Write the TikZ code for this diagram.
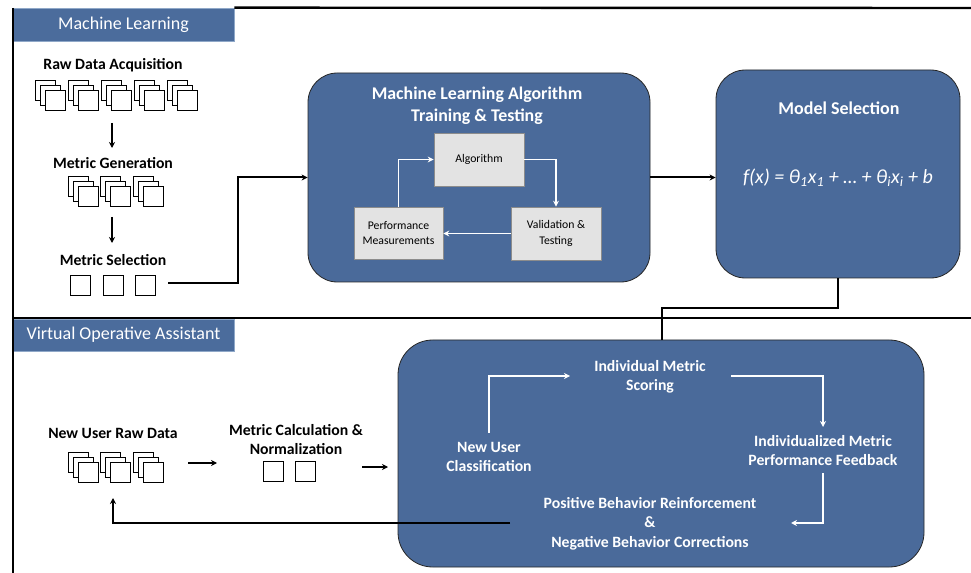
\documentclass[tikz,border=0pt]{standalone}
\usepackage{fontspec}
\setmainfont{Carlito}
\usetikzlibrary{arrows.meta}
\definecolor{boxblue}{HTML}{4A6A9A}
\definecolor{hdrblue}{HTML}{4B6C9C}
\definecolor{hdredge}{HTML}{8FA8C8}
\definecolor{cellgray}{HTML}{E3E3E3}
\definecolor{celledge}{HTML}{8C8C8C}
\tikzset{
  filestack/.pic={\foreach \d in {0,5,10} \draw[fill=white, line width=0.5pt] (\d,\d) rectangle ++(20,20);},
}
\begin{document}
\begin{tikzpicture}[x=0.75pt,y=-0.75pt,
  lbl/.style={font=\bfseries\fontsize{11.8}{14.6}\selectfont, align=center, inner sep=0pt},
  wlbl/.style={lbl, text=white},
  bluebox/.style={draw=black!85, line width=0.6pt, fill=boxblue, rounded corners=22pt},
  hdr/.style={draw=hdredge, line width=0.5pt, fill=hdrblue, text=white, font=\fontsize{13.5}{15}\selectfont, minimum width=165.75pt, inner sep=0pt},
  cell/.style={draw=celledge, fill=cellgray, line width=0.5pt, font=\fontsize{8.8}{11.5}\selectfont, align=center, inner sep=0pt},
  sq/.style={draw=black, fill=white, line width=0.5pt, minimum size=15pt, inner sep=0pt},
  frame/.style={line width=1.8pt},
  conn/.style={line width=1.5pt},
  barr/.style={line width=1.5pt, -{Stealth[length=4.5pt,width=4.5pt]}},
  warr/.style={draw=white, line width=1.2pt, -{Stealth[length=4.5pt,width=4.5pt]}},
]
\useasboundingbox (0,0) rectangle (971,573);

% frame and section headers
\node[hdr, minimum height=24.75pt] (mlhdr) at (123.5,24.5) {Machine Learning};
\node[hdr, minimum height=24pt] (voahdr) at (123.5,335) {Virtual Operative Assistant};
\coordinate (tr) at (971,8);
\coordinate (tl) at (13,8);
\coordinate (bl) at (13,573);
\coordinate (dl) at (13,318);
\coordinate (dr) at (971,318);
\draw[frame] (mlhdr.north east) -- (tr);
\draw[frame] (tl) -- (bl);
\draw[frame] (dl) -- (dr);

% machine learning: left column
\node[lbl] (raw) at (113,65) {Raw Data Acquisition};
\foreach \x in {35,68,101,134,167} \pic at (\x,80) {filestack};
\node[lbl] (gen) at (113,163) {Metric Generation};
\foreach \x in {68,100,133} \pic at (\x,176) {filestack};
\node[lbl] (sel) at (113,260) {Metric Selection};
\node[sq] (s1) at (80,285) {};
\node[sq] (s2) at (113,285) {};
\node[sq] (s3) at (145,285) {};
\coordinate (a1s) at (112,123);
\coordinate (a1e) at (112,148);
\coordinate (a2s) at (112,217);
\coordinate (a2e) at (112,243);
\draw[barr] (a1s) -- (a1e);
\draw[barr] (a2s) -- (a2e);

% ML algorithm box
\node[bluebox, minimum width=256.5pt, minimum height=156.75pt] (mlbox) at (479,177.5) {};
\node[wlbl, font=\bfseries\fontsize{13.4}{16.5}\selectfont] (mltitle) at (477,106) {Machine Learning Algorithm\\Training \& Testing};
\node[cell, minimum width=67.5pt, minimum height=39.75pt] (alg) at (479,159.5) {Algorithm};
\node[cell, minimum width=66.75pt, minimum height=39pt] (pm) at (398.5,233) {Performance\\Measurements};
\node[cell, minimum width=67.5pt, minimum height=39.75pt] (vt) at (556,233.5) {Validation \&\\Testing};
\draw[warr] (alg.east) -| (vt.north);
\draw[warr] (vt.west) -- (vt.west -| pm.east);
\draw[warr] (pm.north) |- (alg.west);

\coordinate (c1s) at (168,283);
\coordinate (c1k) at (238,283);
\draw[barr] (c1s) -- (c1k) |- (mlbox.west);

% model selection
\node[bluebox, minimum width=183pt, minimum height=156pt] (model) at (838,174) {};
\node[wlbl, font=\bfseries\fontsize{13.5}{15}\selectfont] (mstitle) at (839,108) {Model Selection};
\node[text=white, font=\itshape\fontsize{15}{17}\selectfont, inner sep=0pt] (formula) at (838,178)
  {f(x) = θ\textsubscript{1}x\textsubscript{1} + … + θ\textsubscript{i}x\textsubscript{i} + b};
\draw[barr] (mlbox.east) -- (mlbox.east -| model.west);

% virtual operative assistant
\node[bluebox, rounded corners=26pt, minimum width=394.5pt, minimum height=170.25pt] (voa) at (661,453.5) {};
\coordinate (j1) at (662,308);
\draw[conn] (model.south) |- (j1) -- (j1 |- voa.north);

\node[lbl] (nurd) at (113,433) {New User Raw Data};
\foreach \x in {68,100,133} \pic at (\x,452) {filestack};
\node[lbl] (mcn) at (296,439.5) {Metric Calculation \&\\Normalization};
\node[sq] (n1) at (273,471.5) {};
\node[sq] (n2) at (305,471.5) {};
\coordinate (b1s) at (188,463);
\coordinate (b1e) at (217,463);
\coordinate (b2s) at (362,467);
\coordinate (b2e) at (388,467);
\draw[barr] (b1s) -- (b1e);
\draw[barr] (b2s) -- (b2e);

\node[wlbl] (nuc) at (489,457) {New User\\Classification};
\node[wlbl] (ims) at (650,377) {Individual Metric\\Scoring};
\node[wlbl] (impf) at (823,450.5) {Individualized Metric\\Performance Feedback};
\node[wlbl] (pbr) at (650,523.5) {Positive Behavior Reinforcement\\\&\\Negative Behavior Corrections};

\coordinate (w1s) at (489,433);
\coordinate (w1e) at (570,376);
\coordinate (w2s) at (731,376);
\coordinate (w2e) at (823,427);
\coordinate (w3s) at (823,473);
\coordinate (w3e) at (791,523);
\draw[warr] (w1s) |- (w1e);
\draw[warr] (w2s) -| (w2e);
\draw[warr] (w3s) |- (w3e);

\coordinate (r1) at (510,523);
\coordinate (r2) at (113,498);
\draw[barr] (r1) -| (r2);
\end{tikzpicture}
\end{document}
